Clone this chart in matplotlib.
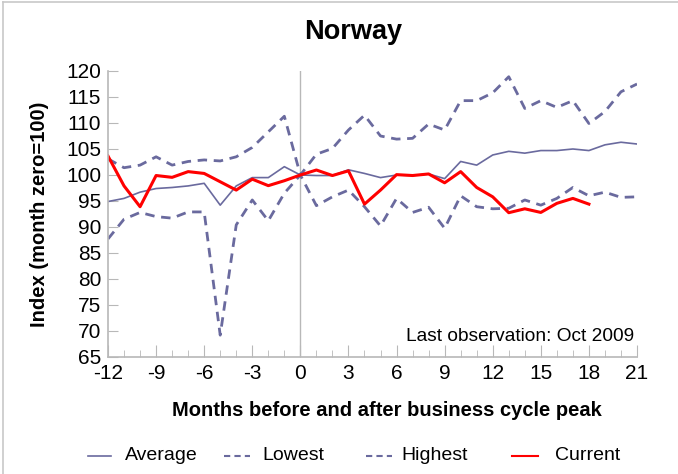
import matplotlib
matplotlib.use("Agg")
import matplotlib.pyplot as plt
from matplotlib.lines import Line2D

plt.rcParams['font.family'] = ['Liberation Sans', 'DejaVu Sans']
plt.rcParams['axes.unicode_minus'] = False

months = list(range(-12, 22))
average = [94.9, 95.5, 96.7, 97.4, 97.6, 97.9, 98.4, 94.2, 97.9, 99.5, 99.5, 101.6, 100.0,
           99.9, 99.9, 101.0, 100.3, 99.5, 100.0, 99.9, 100.2, 99.3, 102.6, 101.9, 103.85,
           104.55, 104.2, 104.7, 104.7, 105.0, 104.7, 105.8, 106.3, 105.96]
lowest = [87.7, 91.5, 92.8, 92.0, 91.7, 92.9, 92.9, 69.2, 90.4, 95.2, 91.2, 96.5, 100.0,
          94.1, 95.8, 97.1, 93.9, 90.2, 95.5, 92.8, 93.8, 89.75, 96.0, 93.9, 93.5,
          93.6, 95.2, 94.2, 95.5, 97.6, 96.0, 96.7, 95.7, 95.8]
highest = [103.1, 101.4, 101.9, 103.5, 101.9, 102.6, 102.9, 102.7, 103.5, 105.3, 108.3, 111.3, 100.0,
           104.0, 105.1, 108.65, 111.5, 107.5, 106.9, 107.05, 109.8, 108.65, 114.3, 114.3, 115.8,
           118.9, 112.8, 114.3, 113.0, 114.3, 109.9, 112.2, 116.0, 117.5]
current_months = list(range(-12, 19))
current = [103.65, 97.9, 93.9, 99.9, 99.55, 100.65, 100.3, 98.7, 97.1, 99.2, 97.95, 98.9, 100.0,
           100.96, 99.9, 100.8, 94.4, 97.1, 100.07, 99.9, 100.2, 98.5, 100.65, 97.6, 95.8,
           92.75, 93.5, 92.8, 94.55, 95.5, 94.4]

xticks = list(range(-12, 22, 3))
yticks = list(range(65, 121, 5))
series_names = ['Average', 'Lowest', 'Highest', 'Current']

blue = '#6a6a9e'
red = '#ff0000'
grey = '#b8b8b8'

W, H = 678, 474
fig = plt.figure(figsize=(W/100, H/100), dpi=100)
ax = fig.add_axes([108/W, 1-357/H, (637-108)/W, (357-71)/H])

dash = (0, (3.4, 2.4))
ax.plot(months, lowest, color=blue, lw=2.0, linestyle=dash)
ax.plot(months, highest, color=blue, lw=2.0, linestyle=dash)
ax.plot(months, average, color=blue, lw=1.2)
ax.plot(current_months, current, color=red, lw=2.2)

ax.axvline(0, color=grey, lw=1.0, zorder=0)

ax.set_xlim(-12, 21)
ax.set_ylim(65, 120)
ax.set_xticks(xticks)
ax.set_xticks(months, minor=True)
ax.set_yticks(yticks)
ax.tick_params(axis='x', which='major', direction='in', length=9, color=grey, labelsize=15, pad=5)
ax.tick_params(axis='x', which='minor', direction='in', length=5, color=grey)
ax.tick_params(axis='y', direction='in', length=7, color=grey, labelsize=15, pad=5)
for s in ['top', 'right']:
    ax.spines[s].set_visible(False)
for s in ['left', 'bottom']:
    ax.spines[s].set_color(grey)
    ax.spines[s].set_linewidth(1.2)

ax.set_ylabel('Index (month zero=100)', fontsize=14.5, fontweight='bold')
ax.yaxis.set_label_coords((40-108)/(637-108), 0.5)
ax.set_xlabel('Months before and after business cycle peak', fontsize=14.5, fontweight='bold')
ax.xaxis.set_label_coords((387-108)/(637-108), -(411-357)/(357-71))
ax.xaxis.label.set_va('center')
ax.yaxis.label.set_va('center')

fig.text(353/W, 1-32/H, 'Norway', fontsize=19.5, fontweight='bold', ha='center', va='center')
ax.text(20.8, 67.3, 'Last observation: Oct 2009', fontsize=13.8, ha='right', va='bottom')

# legend (manual placement)
leg_y = 1 - 456/H
handle_x = [(88, 111), (224, 250), (366, 392), (512, 538)]
text_x = [125, 262, 401, 555]
styles = [dict(color=blue, lw=1.2), dict(color=blue, lw=1.5, linestyle=(0, (3, 2))),
          dict(color=blue, lw=1.5, linestyle=(0, (3, 2))), dict(color=red, lw=1.5)]
for (x0, x1), tx, st, name in zip(handle_x, text_x, styles, series_names):
    fig.add_artist(Line2D([x0/W, x1/W], [leg_y, leg_y], transform=fig.transFigure, **st))
    fig.text(tx/W, leg_y, name, fontsize=14, ha='left', va='center')

# partial figure border (top and left)
fig.add_artist(Line2D([3/W, 1], [1-2/H, 1-2/H], color='#c8c8c8', lw=1.2, transform=fig.transFigure))
fig.add_artist(Line2D([3/W, 3/W], [0, 1-2/H], color='#c8c8c8', lw=1.2, transform=fig.transFigure))

fig.savefig('out.png', dpi=100)
